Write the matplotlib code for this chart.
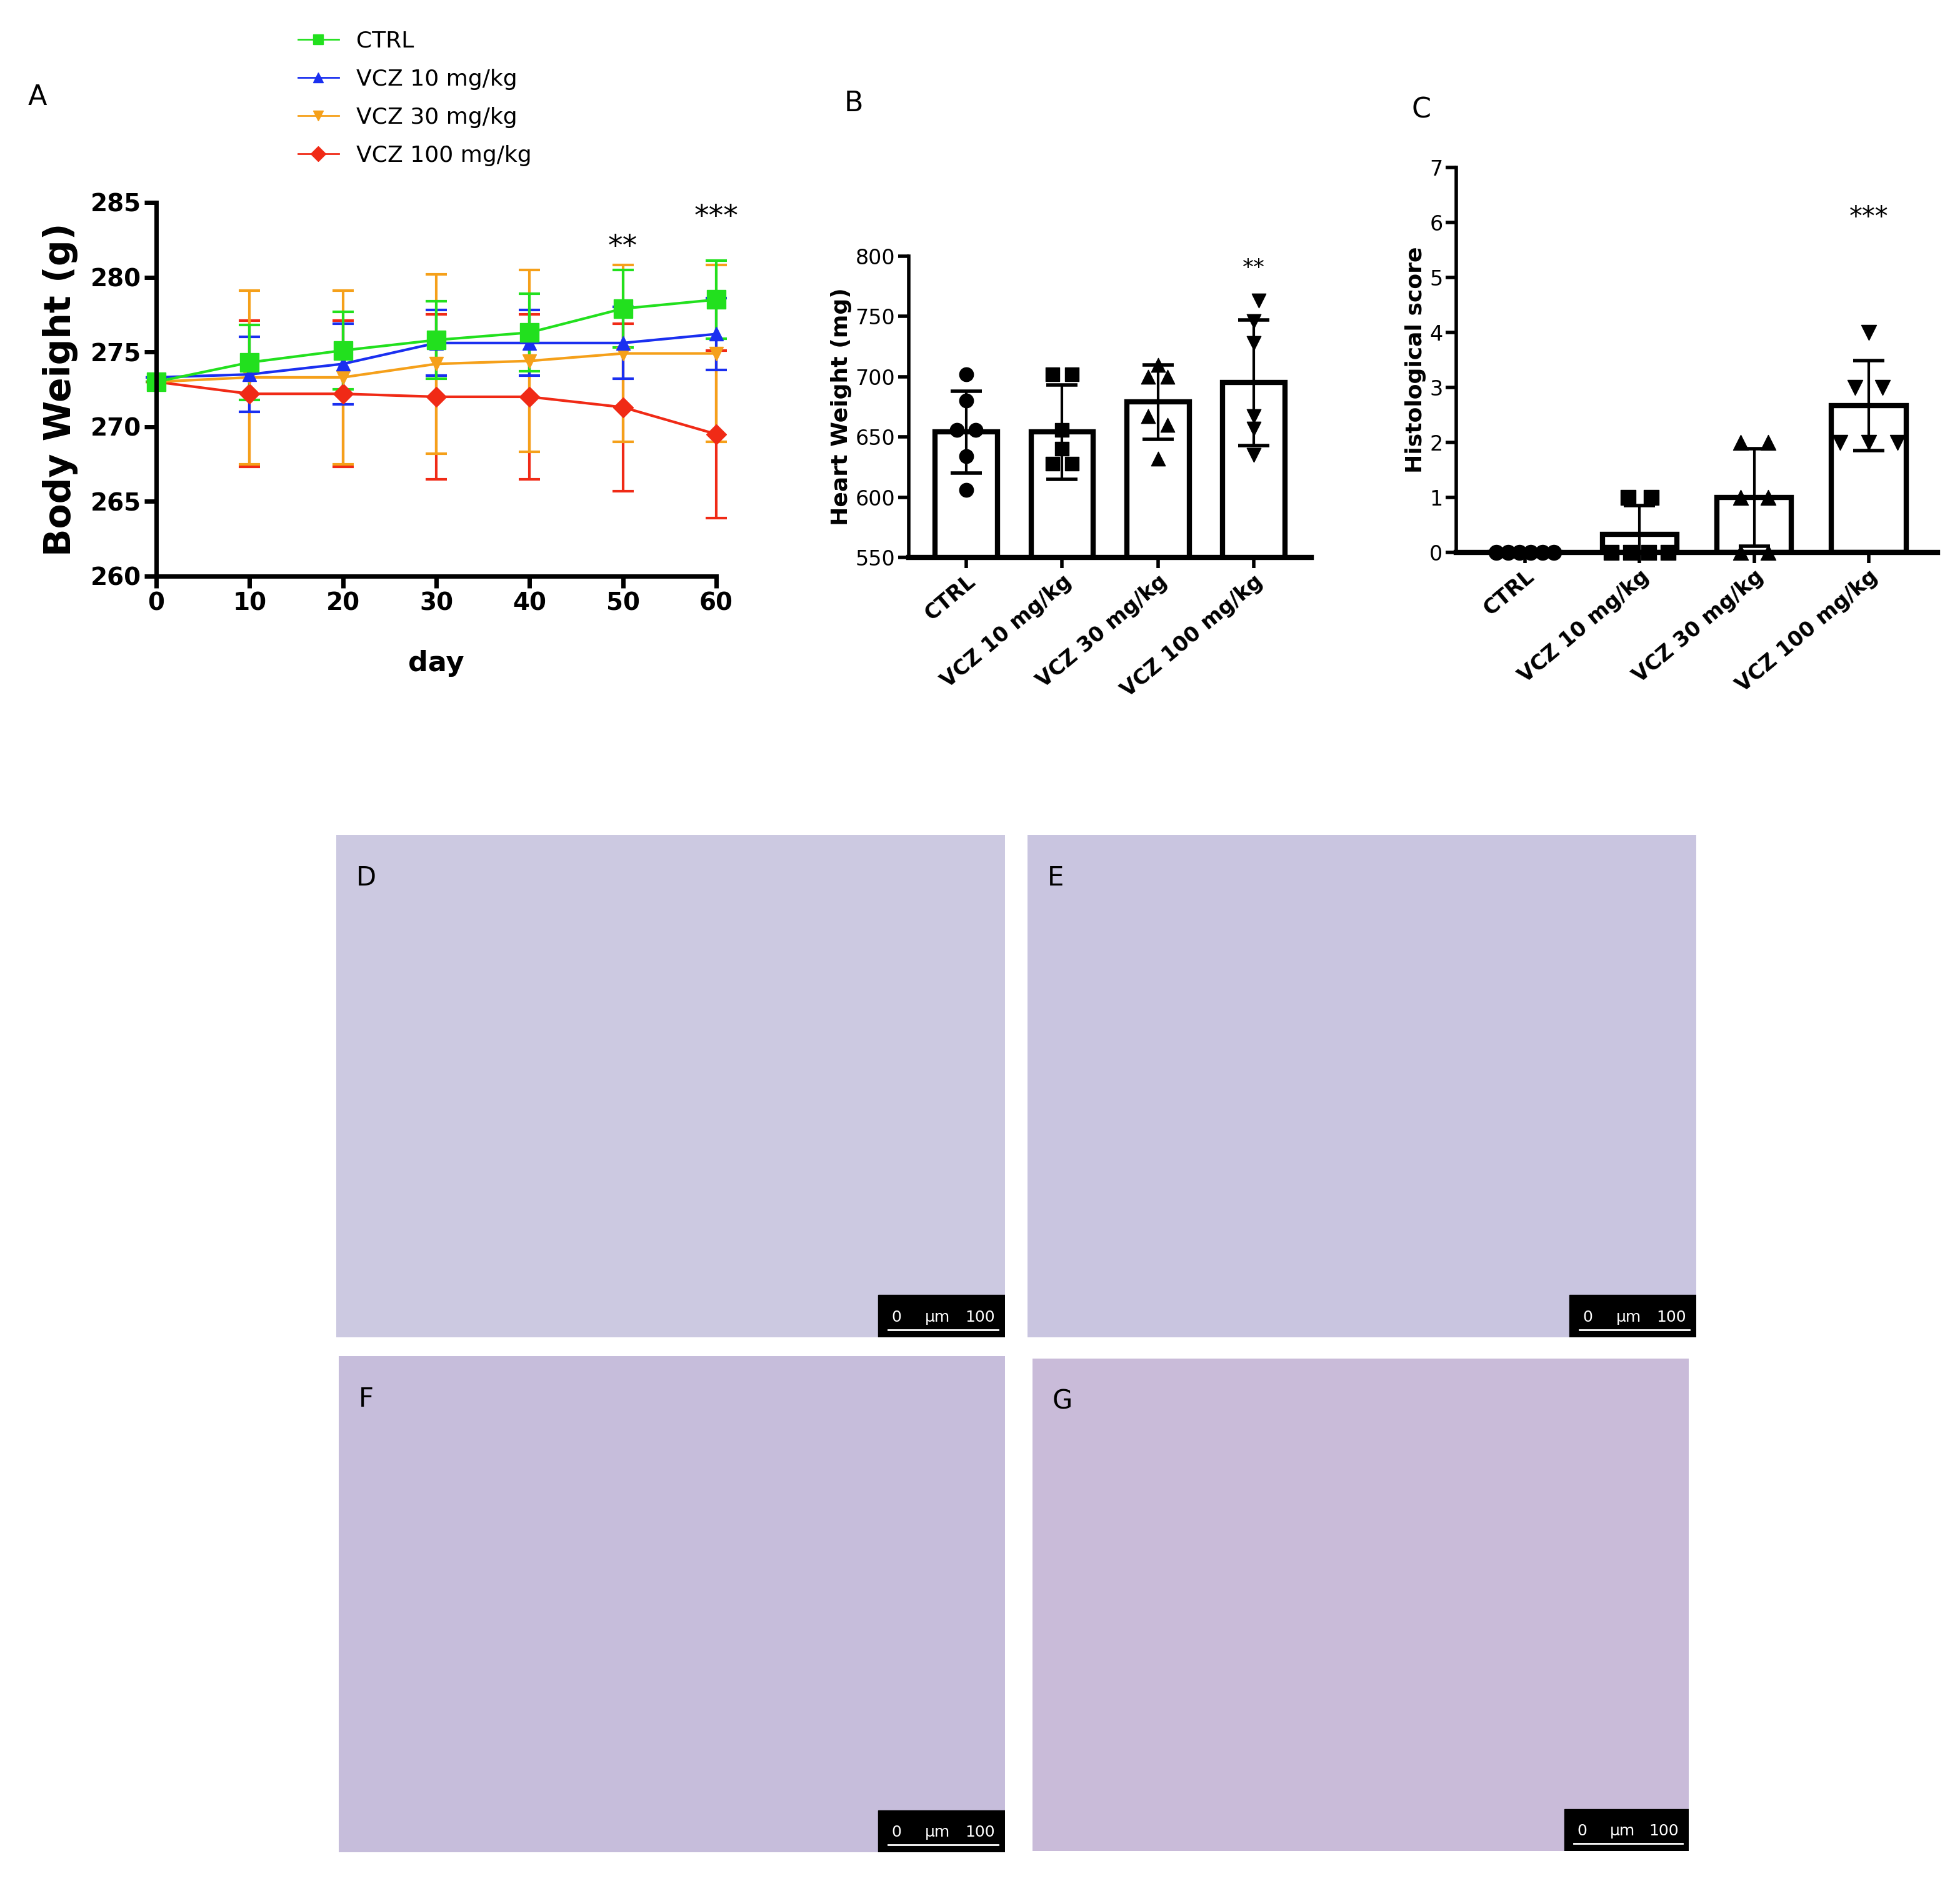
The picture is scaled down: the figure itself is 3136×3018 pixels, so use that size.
import matplotlib
matplotlib.use('Agg')
from matplotlib import pyplot as plt
from matplotlib.lines import Line2D
import numpy as np

days = [0, 10, 20, 30, 40, 50, 60]
ctrl = [273.0, 274.3, 275.1, 275.8, 276.3, 277.9, 278.5]
ctrl_err = [0, 2.5, 2.6, 2.6, 2.6, 2.6, 2.6]
v10 = [273.3, 273.5, 274.2, 275.6, 275.6, 275.6, 276.2]
v10_err = [0, 2.5, 2.7, 2.2, 2.2, 2.4, 2.4]
v30 = [273.0, 273.3, 273.3, 274.2, 274.4, 274.9, 274.9]
v30_err = [0, 5.8, 5.8, 6.0, 6.1, 5.9, 5.9]
v100 = [273.0, 272.2, 272.2, 272.0, 272.0, 271.3, 269.5]
v100_err = [0, 4.9, 4.9, 5.5, 5.5, 5.6, 5.6]

groups = ['CTRL', 'VCZ 10 mg/kg', 'VCZ 30 mg/kg', 'VCZ 100 mg/kg']
heart_mean = [654, 654, 679, 695]
heart_sd = [34, 39, 31, 52]
heart_pts = [[702, 680, 656, 656, 634, 606],
             [702, 702, 656, 640, 628, 628],
             [710, 700, 700, 667, 660, 632],
             [763, 746, 728, 667, 657, 635]]
histo_mean = [0, 0.33, 1.0, 2.67]
histo_sd = [0, 0.52, 0.89, 0.82]
histo_pts = [[0, 0, 0, 0, 0, 0],
             [1, 1, 0, 0, 0, 0],
             [2, 2, 1, 1, 0, 0],
             [4, 3, 3, 2, 2, 2]]
markers = ['o', 's', '^', 'v']

W, H = 1568, 1509
fig = plt.figure(figsize=(31.36, 30.18), dpi=100)


def box(x0, y0, x1, y1):
    return [x0 / W, 1 - y1 / H, (x1 - x0) / W, (y1 - y0) / H]


# panel A
ax = fig.add_axes(box(125, 162, 573, 461))
series = [(ctrl, ctrl_err, '#22e01e', 's', 'CTRL'),
          (v10, v10_err, '#1a2ff0', '^', 'VCZ 10 mg/kg'),
          (v30, v30_err, '#f5a01a', 'v', 'VCZ 30 mg/kg'),
          (v100, v100_err, '#f02a16', 'D', 'VCZ 100 mg/kg')]
for vals, err, col, m, lab in reversed(series):
    ax.errorbar(days, vals, yerr=err, color=col, marker=m, ms=22 if m == 's' else 16,
                lw=3, elinewidth=3, capsize=12, capthick=3, clip_on=False)
ax.set_xlim(0, 60)
ax.set_ylim(260, 285)
ax.set_xticks(days)
ax.set_yticks([260, 265, 270, 275, 280, 285])
for s in ['top', 'right']:
    ax.spines[s].set_visible(False)
for s in ['left', 'bottom']:
    ax.spines[s].set_linewidth(5)
ax.tick_params(width=5, length=14, labelsize=28)
for t in ax.get_xticklabels() + ax.get_yticklabels():
    t.set_fontweight('bold')
ax.set_ylabel('Body Weight (g)', fontsize=42, fontweight='bold', labelpad=14)
ax.set_xlabel('day', fontsize=32, fontweight='bold', labelpad=40)
ax.text(50, 281.5, '**', ha='center', fontsize=34)
ax.text(60, 283.5, '***', ha='center', fontsize=34, clip_on=False)
handles = [Line2D([], [], color=s[2], marker=s[3], ms=12, lw=2) for s in series]
fig.legend(handles, [s[4] for s in series], loc='upper left',
           bbox_to_anchor=(222 / W, 1 - 8 / H), frameon=False, fontsize=26,
           labelspacing=0.75, handlelength=1.8)

# panel B
axb = fig.add_axes(box(727, 205, 1049, 446))
x = np.arange(4)
axb.bar(x, heart_mean, width=0.65, color='white', edgecolor='black', lw=6, zorder=1)
axb.errorbar(x, heart_mean, yerr=heart_sd, fmt='none', ecolor='black', elinewidth=3,
             capsize=18, capthick=4, zorder=2)
b_off = [[0, 0, -0.1, 0.1, 0, 0],
         [-0.1, 0.1, 0, 0, -0.1, 0.1],
         [0, -0.1, 0.1, -0.1, 0.1, 0],
         [0.05, 0, 0, 0, 0, 0]]
for i, pts in enumerate(heart_pts):
    axb.scatter(i + np.array(b_off[i]), pts, marker=markers[i],
                s=260, color='black', zorder=3)
axb.set_ylim(550, 800)
axb.set_xlim(-0.6, 3.6)
axb.set_yticks([550, 600, 650, 700, 750, 800])
axb.set_xticks(x)
axb.set_xticklabels(groups, rotation=40, ha='right', rotation_mode='anchor', fontweight='bold')
axb.set_ylabel('Heart Weight (mg)', fontsize=26, fontweight='bold')
axb.text(3, 785, '**', ha='center', fontsize=26)

# panel C
axc = fig.add_axes(box(1165, 134, 1550, 442))
axc.bar(x, histo_mean, width=0.65, color='white', edgecolor='black', lw=6, zorder=1)
axc.errorbar(x, histo_mean, yerr=histo_sd, fmt='none', ecolor='black', elinewidth=3,
             capsize=18, capthick=4, zorder=2)
c_off = [[-0.25, -0.15, -0.05, 0.05, 0.15, 0.25],
         [-0.1, 0.1, -0.25, -0.08, 0.08, 0.25],
         [-0.12, 0.12, -0.12, 0.12, -0.12, 0.12],
         [0, -0.12, 0.12, -0.25, 0, 0.25]]
for i, pts in enumerate(histo_pts):
    axc.scatter(i + np.array(c_off[i]), pts, marker=markers[i], s=300, color='black',
                zorder=3, clip_on=False)
axc.set_ylim(0, 7)
axc.set_xlim(-0.6, 3.6)
axc.set_yticks(range(8))
axc.set_xticks(x)
axc.set_xticklabels(groups, rotation=40, ha='right', rotation_mode='anchor', fontweight='bold')
axc.set_ylabel('Histological score', fontsize=26, fontweight='bold')
axc.text(3, 5.95, '***', ha='center', fontsize=30)

for a in (axb, axc):
    for s in ['top', 'right']:
        a.spines[s].set_visible(False)
    a.spines['left'].set_linewidth(4)
    a.spines['bottom'].set_linewidth(6)
    a.tick_params(width=4, length=12, labelsize=24)

fig.text(30 / W, 1 - 78 / H, 'A', fontsize=32, ha='center', va='center')
fig.text(683 / W, 1 - 83 / H, 'B', fontsize=32, ha='center', va='center')
fig.text(1137 / W, 1 - 88 / H, 'C', fontsize=32, ha='center', va='center')

# histology panels (plain tissue-coloured fields)
photos = [('D', (269, 668, 804, 1070), '#ccc9e1'),
          ('E', (822, 668, 1357, 1070), '#c9c5e0'),
          ('F', (271, 1085, 804, 1482), '#c6bddb'),
          ('G', (826, 1087, 1351, 1481), '#c9bbd9')]
for lab, (x0, y0, x1, y1), col in photos:
    ap = fig.add_axes(box(x0, y0, x1, y1))
    ap.set_facecolor(col)
    ap.set_xticks([])
    ap.set_yticks([])
    for s in ap.spines.values():
        s.set_visible(False)
    ap.text(0.03, 0.94, lab, transform=ap.transAxes, fontsize=30, va='top')
    ap.add_patch(plt.Rectangle((0.81, 0.0), 0.19, 0.085, transform=ap.transAxes,
                               color='black'))
    ap.plot([0.825, 0.99], [0.015, 0.015], color='white', lw=2, transform=ap.transAxes)
    ap.text(0.83, 0.04, '0', color='white', fontsize=18, transform=ap.transAxes, va='center')
    ap.text(0.88, 0.04, 'µm', color='white', fontsize=18, transform=ap.transAxes, va='center')
    ap.text(0.985, 0.04, '100', color='white', fontsize=18, transform=ap.transAxes,
            va='center', ha='right')

fig.savefig('out.png', dpi=100)
